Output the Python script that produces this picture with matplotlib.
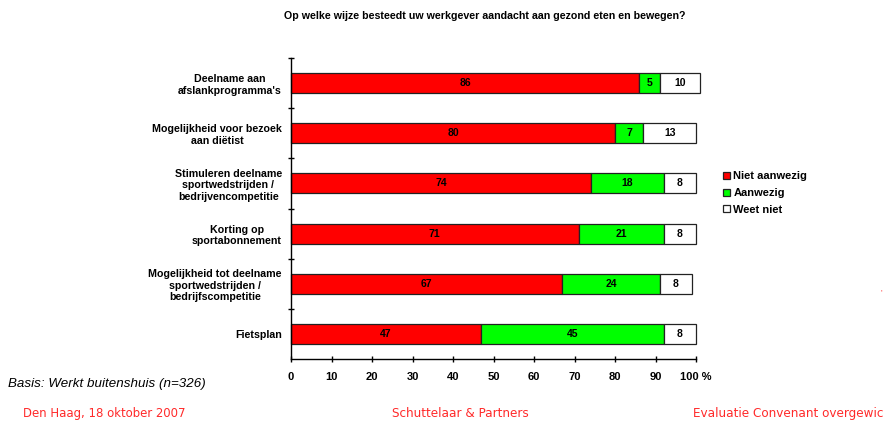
import numpy as np
import matplotlib.pyplot as plt

plt.rcParams['font.family'] = ['Liberation Sans', 'DejaVu Sans']

categories = ["Deelname aan\nafslankprogramma's",
              "Mogelijkheid voor bezoek\naan diëtist",
              "Stimuleren deelname\nsportwedstrijden /\nbedrijvencompetitie",
              "Korting op\nsportabonnement",
              "Mogelijkheid tot deelname\nsportwedstrijden /\nbedrijfscompetitie",
              "Fietsplan"]
niet_aanwezig = [86, 80, 74, 71, 67, 47]
aanwezig = [5, 7, 18, 21, 24, 45]
weet_niet = [10, 13, 8, 8, 8, 8]
series = ["Niet aanwezig", "Aanwezig", "Weet niet"]
colors = ['#ff0000', '#00ff00', '#ffffff']
xticks = [0, 10, 20, 30, 40, 50, 60, 70, 80, 90, 100]
xticklabels = ['0', '10', '20', '30', '40', '50', '60', '70', '80', '90', '100 %']

fig = plt.figure(figsize=(8.83, 4.23), dpi=100)
ax = fig.add_axes([291/883, 1 - 359/423, 405/883, 301/423])

y = np.arange(len(categories))
left = np.zeros(len(categories))
for vals, col, name in zip([niet_aanwezig, aanwezig, weet_niet], colors, series):
    vals = np.array(vals)
    bars = ax.barh(y, vals, left=left, height=0.4, color=col, edgecolor='#222222',
                   linewidth=0.9, label=name, clip_on=False)
    for b, v, l in zip(bars, vals, left):
        ax.text(l + v / 2, b.get_y() + b.get_height() / 2, str(v), ha='center',
                va='center', fontsize=7.5, fontweight='bold')
    left = left + vals

ax.set_ylim(len(categories) - 0.5, -0.5)
ax.set_xlim(0, 100)
ax.set_xticks(xticks)
ax.set_xticklabels(xticklabels, fontsize=8, fontweight='bold')
ax.set_yticks(y)
ax.set_yticklabels(categories, fontsize=7.7, fontweight='bold', multialignment='center')
ax.set_yticks(np.arange(len(categories)) - 0.5, minor=True)
ax.tick_params(axis='y', which='major', length=0, pad=6.5)
ax.tick_params(axis='y', which='minor', direction='inout', length=5, width=1)
ax.tick_params(axis='x', direction='inout', length=5, width=1, pad=7)
for s in ['top', 'right']:
    ax.spines[s].set_visible(False)
ax.spines['left'].set_linewidth(1.0)
ax.spines['bottom'].set_linewidth(1.0)

fig.text(485/883, 1 - 16/423, 'Op welke wijze besteedt uw werkgever aandacht aan gezond eten en bewegen?',
         ha='center', va='center', fontsize=7.7, fontweight='bold')

leg = fig.legend(loc='upper left', bbox_to_anchor=(719/883, 1 - 167/423), frameon=False,
                 fontsize=8, handlelength=0.6, handleheight=0.6, handletextpad=0.3,
                 labelspacing=0.6, borderaxespad=0)
for t in leg.get_texts():
    t.set_fontweight('bold')

fig.text(8/883, 1 - 384/423, 'Basis: Werkt buitenshuis (n=326)', ha='left', va='center',
         fontsize=9.6, style='italic')

red = '#ff2a2a'
fig.text(23/883, 1 - 413/423, 'Den Haag, 18 oktober 2007', color=red, fontsize=9.4,
         va='center', ha='left', family='DejaVu Sans', fontstretch='condensed')
fig.text(392/883, 1 - 413/423, 'Schuttelaar & Partners', color=red, fontsize=9.6,
         va='center', ha='left', family='DejaVu Sans', fontstretch='condensed')
fig.text(693/883, 1 - 413/423, 'Evaluatie Convenant overgewicht', color=red, fontsize=9.6,
         va='center', ha='left', family='DejaVu Sans', fontstretch='condensed')
fig.text(881/883, 1 - 293/423, "'", color=red, fontsize=6, ha='center', va='center')

fig.savefig('out.png', dpi=100)
